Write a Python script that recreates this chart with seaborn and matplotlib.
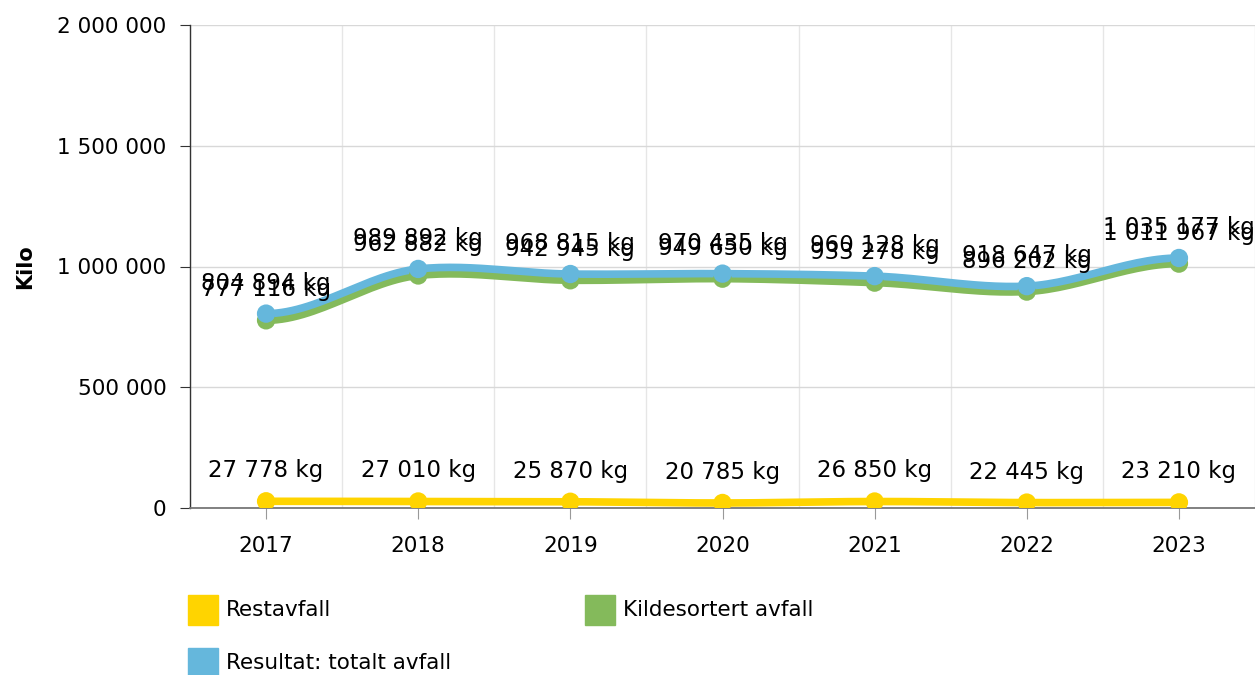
import numpy as np
import matplotlib.pyplot as plt
import seaborn as sns
from matplotlib.patches import Rectangle
from matplotlib.ticker import FuncFormatter

years = ['2017', '2018', '2019', '2020', '2021', '2022', '2023']
restavfall = [27778, 27010, 25870, 20785, 26850, 22445, 23210]
kildesortert = [777116, 962882, 942945, 949650, 933278, 896202, 1011967]
totalt = [804894, 989892, 968815, 970435, 960128, 918647, 1035177]

series = [
    ('Restavfall', restavfall, '#FFD400'),
    ('Kildesortert avfall', kildesortert, '#84BA5B'),
    ('Resultat: totalt avfall', totalt, '#65B7DC'),
]


def spaced(v):
    return f'{int(round(v)):,}'.replace(',', ' ')


def smooth(y, n=30):
    # cubic hermite curve through the points (drawing only)
    y = np.asarray(y, dtype=float)
    x = np.arange(len(y), dtype=float)
    m = np.gradient(y, x) * 0.8
    m[0] = 0
    m[-1] = 0
    xs, ys = [], []
    for i in range(len(y) - 1):
        t = np.linspace(0, 1, n)
        h00 = 2 * t**3 - 3 * t**2 + 1
        h10 = t**3 - 2 * t**2 + t
        h01 = -2 * t**3 + 3 * t**2
        h11 = t**3 - t**2
        xs.append(x[i] + t)
        ys.append(h00 * y[i] + h10 * m[i] + h01 * y[i + 1] + h11 * m[i + 1])
    return np.concatenate(xs), np.concatenate(ys)


sns.set_style('white')
plt.rcParams['font.family'] = ['DejaVu Sans']
plt.rcParams['text.color'] = 'black'
plt.rcParams['axes.labelcolor'] = 'black'
plt.rcParams['xtick.color'] = 'black'
plt.rcParams['ytick.color'] = 'black'

FS_LAB = 16.5
FS_TICK = 15.5
FS_LEG = 15.5

fig = plt.figure(figsize=(12.55, 6.75), dpi=100)
ax = fig.add_axes([190 / 1255, 1 - 508 / 675, 1 - 190 / 1255, (508 - 25) / 675])

xpos = np.arange(len(years))
for name, vals, col in series:
    sx, sy = smooth(vals)
    sns.lineplot(x=sx, y=sy, ax=ax, color=col, linewidth=5.5, sort=False, zorder=3)
    sns.scatterplot(x=xpos, y=vals, ax=ax, color=col, s=175, edgecolor='none', zorder=4)
    for xi, v in zip(xpos, vals):
        ax.annotate(f'{spaced(v)} kg', (xi, v), xytext=(0, 22), textcoords='offset points',
                    ha='center', va='center', fontsize=FS_LAB, color='black', zorder=5)

ax.set_xlim(-0.5, len(years) - 0.5)
ax.set_ylim(0, 2000000)
ax.set_yticks([0, 500000, 1000000, 1500000, 2000000])
ax.yaxis.set_major_formatter(FuncFormatter(lambda v, p: spaced(v)))
ax.set_xticks(xpos)
ax.set_xticklabels(years)
ax.set_xticks(np.arange(-0.5, len(years)), minor=True)

ax.grid(axis='y', which='major', color='#d8d8d8', linewidth=1)
ax.grid(axis='x', which='minor', color='#e6e6e6', linewidth=1)
ax.grid(axis='x', which='major', visible=False)

for s in ['top', 'right']:
    ax.spines[s].set_visible(False)
ax.spines['left'].set_color('#333333')
ax.spines['left'].set_linewidth(1)
ax.spines['bottom'].set_color('#777777')
ax.spines['bottom'].set_linewidth(1.3)

ax.tick_params(axis='y', which='major', left=True, length=7, color='#333333', labelsize=FS_TICK, pad=10)
ax.tick_params(axis='x', which='major', bottom=True, length=8, color='#999999', labelsize=FS_TICK, pad=12)
ax.tick_params(axis='x', which='minor', bottom=False)

ax.set_ylabel('')
ax.set_xlabel('')
fig.text(25 / 1255, 1 - 267 / 675, 'Kilo', fontsize=15, fontweight='bold', rotation=90,
         ha='center', va='center')

# legend drawn below the chart
legend_items = [
    (188, 595, 'Restavfall', '#FFD400'),
    (585, 595, 'Kildesortert avfall', '#84BA5B'),
    (188, 648, 'Resultat: totalt avfall', '#65B7DC'),
]
for lx, ly, label, col in legend_items:
    fig.add_artist(Rectangle((lx / 1255, 1 - (ly + 30) / 675), 30 / 1255, 30 / 675,
                             transform=fig.transFigure, color=col))
    fig.text((lx + 38) / 1255, 1 - (ly + 15) / 675, label, fontsize=FS_LEG, va='center', ha='left')

fig.savefig('out.png', dpi=100)
